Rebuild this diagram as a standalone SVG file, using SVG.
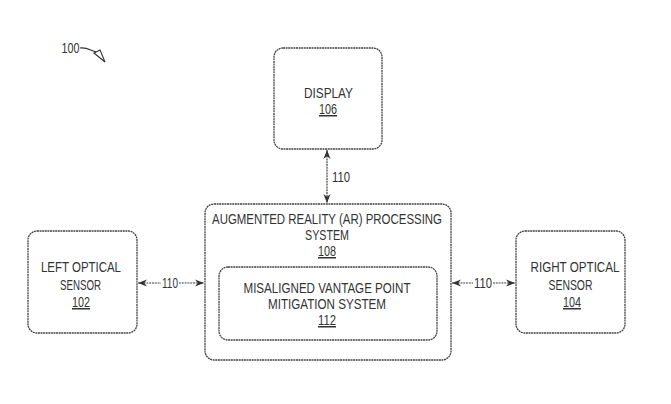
<svg xmlns="http://www.w3.org/2000/svg" width="671" height="404" viewBox="0 0 671 404">
<defs>
<marker id="ah" viewBox="0 0 10 10" refX="10" refY="5" markerWidth="9" markerHeight="9" markerUnits="userSpaceOnUse" orient="auto-start-reverse">
<path d="M0,1 L10,5 L0,9 L3,5 Z" fill="#333"/>
</marker>
</defs>
<style>
.box{fill:#fff;stroke:#444;stroke-width:1.3;stroke-dasharray:2 0.6}
.t{font-family:"Liberation Sans",Arial,sans-serif;font-size:15px;fill:#333;text-anchor:middle}
.u{text-decoration:underline}
.c{stroke:#444;stroke-width:1.2;fill:none;stroke-dasharray:2 0.8}
</style>
<rect width="671" height="404" fill="#fff"/>
<g id="ref100">
<text class="t" x="70.5" y="53" textLength="18" lengthAdjust="spacingAndGlyphs">100</text>
<path d="M80,48 C86,47 90,50 96,52" fill="none" stroke="#333" stroke-width="1.2"/>
<path d="M94,53 L100,50 L105,62 Z" fill="none" stroke="#333" stroke-width="1.1"/>
</g>
<g id="display">
<rect class="box" x="274" y="48" width="108" height="101" rx="9"/>
<text class="t" x="328.5" y="98" textLength="49" lengthAdjust="spacingAndGlyphs">DISPLAY</text>
<text class="t u" x="328" y="114" textLength="18" lengthAdjust="spacingAndGlyphs">106</text>
</g>
<g id="ar">
<rect class="box" x="205" y="204" width="246" height="156" rx="9"/>
<text class="t" x="327" y="224" textLength="230" lengthAdjust="spacingAndGlyphs">AUGMENTED REALITY (AR) PROCESSING</text>
<text class="t" x="327" y="240" textLength="44" lengthAdjust="spacingAndGlyphs">SYSTEM</text>
<text class="t u" x="327" y="256" textLength="18" lengthAdjust="spacingAndGlyphs">108</text>
</g>
<g id="mvp">
<rect class="box" x="219" y="267" width="218" height="73" rx="9"/>
<text class="t" x="327" y="293" textLength="167" lengthAdjust="spacingAndGlyphs">MISALIGNED VANTAGE POINT</text>
<text class="t" x="327" y="309" textLength="118" lengthAdjust="spacingAndGlyphs">MITIGATION SYSTEM</text>
<text class="t u" x="327" y="325" textLength="18" lengthAdjust="spacingAndGlyphs">112</text>
</g>
<g id="left">
<rect class="box" x="28" y="231" width="109" height="102" rx="9"/>
<text class="t" x="81" y="272" textLength="80" lengthAdjust="spacingAndGlyphs">LEFT OPTICAL</text>
<text class="t" x="80.5" y="290" textLength="41" lengthAdjust="spacingAndGlyphs">SENSOR</text>
<text class="t u" x="81" y="307" textLength="18" lengthAdjust="spacingAndGlyphs">102</text>
</g>
<g id="right">
<rect class="box" x="516" y="231" width="109" height="102" rx="9"/>
<text class="t" x="575" y="272" textLength="89" lengthAdjust="spacingAndGlyphs">RIGHT OPTICAL</text>
<text class="t" x="570.5" y="290" textLength="44" lengthAdjust="spacingAndGlyphs">SENSOR</text>
<text class="t u" x="572" y="307" textLength="18" lengthAdjust="spacingAndGlyphs">104</text>
</g>
<g id="connectors">
<line class="c" x1="327" y1="150" x2="327" y2="203" marker-start="url(#ah)" marker-end="url(#ah)"/>
<text class="t" x="341" y="182" textLength="18" lengthAdjust="spacingAndGlyphs">110</text>
<line class="c" x1="138" y1="283" x2="161" y2="283" marker-start="url(#ah)"/>
<line class="c" x1="179" y1="283" x2="204" y2="283" marker-end="url(#ah)"/>
<text class="t" x="170" y="288" textLength="16" lengthAdjust="spacingAndGlyphs">110</text>
<line class="c" x1="452" y1="283" x2="473" y2="283" marker-start="url(#ah)"/>
<line class="c" x1="493" y1="283" x2="515" y2="283" marker-end="url(#ah)"/>
<text class="t" x="483" y="288" textLength="18" lengthAdjust="spacingAndGlyphs">110</text>
</g>
</svg>
